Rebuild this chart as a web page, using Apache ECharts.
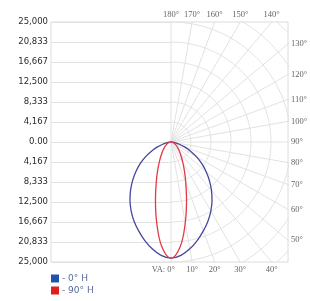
<!DOCTYPE html>
<html>
<head>
<meta charset="utf-8">
<script src="https://cdn.jsdelivr.net/npm/echarts@6/dist/echarts.min.js"></script>
<style>
  html, body { margin: 0; padding: 0; background: #fff; }
  #chart { width: 310px; height: 301px; }
</style>
</head>
<body>
<div id="chart"></div>
<script>
// vertical angle (VA), degrees
const vAngles = [0, 5, 10, 15, 20, 25, 30, 35, 40, 45, 50, 55, 60, 65, 70, 75, 80, 85, 90]
// intensity per VA, C0 plane (0° H) and C90 plane (90° H)
const int0H  = [24200, 23700, 22600, 21200, 19700, 18200, 16600, 14900, 13100, 11300, 9500, 7800, 6100, 4500, 3000, 1800, 950, 420, 0]
const int90H = [24200, 21900, 17100, 12500, 9000, 6600, 4900, 3750, 2900, 2300, 1800, 1400, 1100, 870, 660, 480, 310, 150, 0]
const seriesNames = ['0° H', '90° H']

const yTickLabels = ['0.00', '4,167', '8,333', '12,500', '16,667', '20,833', '25,000']
const topTicks = [180, 170, 160, 150, 140]
const rightTicks = [130, 120, 110, 100, 90, 80, 70, 60, 50]
const bottomTicks = [0, 10, 20, 30, 40]
const spokeAngles = [0, 10, 20, 30, 40, 50, 60, 70, 80, 90, 100, 110, 120, 130, 140, 150, 160, 170, 180]
const ringSteps = [1, 2, 3, 4, 5, 6, 7, 8, 9]

const maxI = 25000
const step = maxI / 6
const xMax = 24375
const rad = d => d * Math.PI / 180

// VA 0° points down, 90° to the right
const toXY = (a, v) => [v * Math.sin(rad(a)), -v * Math.cos(rad(a))]

const buildCurve = vals => {
  const pts = []
  for (let i = vAngles.length - 1; i >= 0; i--) pts.push(toXY(vAngles[i], vals[i]))
  for (let i = 1; i < vAngles.length; i++) pts.push(toXY(-vAngles[i], vals[i]))
  return pts
}

const gridLine = '#e2e2e2'
const series = []

// polar grid, right half only
spokeAngles.forEach(a => {
  series.push({
    type: 'line', xAxisIndex: 1, yAxisIndex: 1, silent: true, showSymbol: false,
    data: [[0, 0], toXY(a, 40000)],
    lineStyle: { color: gridLine, width: 1 }, z: 1
  })
})
ringSteps.forEach(k => {
  const pts = []
  for (let a = 0; a <= 180; a += 2) pts.push(toXY(a, k * step))
  series.push({
    type: 'line', xAxisIndex: 1, yAxisIndex: 1, silent: true, showSymbol: false,
    data: pts, lineStyle: { color: gridLine, width: 1 }, z: 1
  })
})

// angle labels where the spokes meet the frame
const labelData = []
const addLabel = (a, text) => {
  const s = Math.sin(rad(a)), c = Math.cos(rad(a))
  const tx = s > 1e-9 ? xMax / s : Infinity
  const ty = Math.abs(c) > 1e-9 ? maxI / Math.abs(c) : Infinity
  const t = Math.min(tx, ty)
  let position = 'right'
  if (ty <= tx) position = c < 0 ? 'top' : 'bottom'
  const item = { value: toXY(a, t), label: { position, formatter: text } }
  if (a === 0) { item.label.align = 'right'; item.label.offset = [4, 0] }
  labelData.push(item)
}
topTicks.forEach(a => addLabel(a, a + '°'))
rightTicks.forEach(a => addLabel(a, a + '°'))
bottomTicks.forEach(a => addLabel(a, a === 0 ? 'VA: 0°' : a + '°'))

series.push({
  type: 'scatter', xAxisIndex: 1, yAxisIndex: 1, silent: true, clip: false,
  symbolSize: 0, data: labelData,
  label: { show: true, distance: 3, fontSize: 8.5, color: '#3a3a3a', fontFamily: 'Liberation Serif' }
})

// light distribution curves
series.push({
  name: seriesNames[0], type: 'line', xAxisIndex: 1, yAxisIndex: 1,
  data: buildCurve(int0H), showSymbol: false, smooth: 0.4,
  lineStyle: { color: '#46469c', width: 1.3 }, itemStyle: { color: '#46469c' }, z: 5
})
series.push({
  name: seriesNames[1], type: 'line', xAxisIndex: 1, yAxisIndex: 1,
  data: buildCurve(int90H), showSymbol: false, smooth: 0.4,
  lineStyle: { color: '#e23a44', width: 1.3 }, itemStyle: { color: '#e23a44' }, z: 5
})

const chart = echarts.init(document.getElementById('chart'))
chart.setOption({
  animation: false,
  grid: [
    { left: 51, top: 22, width: 120, height: 240 },
    { left: 51, top: 22, width: 237, height: 240, show: true, borderColor: '#dcdcdc', borderWidth: 1, backgroundColor: 'transparent' }
  ],
  xAxis: [
    { gridIndex: 0, type: 'value', min: 0, max: 1, show: false },
    { gridIndex: 1, type: 'value', min: -maxI, max: xMax, show: false }
  ],
  yAxis: [
    {
      gridIndex: 0, type: 'value', min: -maxI, max: maxI, interval: step,
      axisLine: { show: false }, axisTick: { show: false },
      axisLabel: {
        margin: 3, fontSize: 8.5, color: '#2a2a2a', fontFamily: 'DejaVu Sans',
        formatter: v => yTickLabels[Math.round(Math.abs(v) / step)]
      },
      splitLine: { lineStyle: { color: gridLine } }
    },
    { gridIndex: 1, type: 'value', min: -maxI, max: maxI, show: false }
  ],
  legend: {
    data: [
      { name: seriesNames[0], itemStyle: { color: '#2352aa' } },
      { name: seriesNames[1], itemStyle: { color: '#e01e1e' } }
    ],
    orient: 'vertical', left: 51, top: 274, padding: 0, itemWidth: 8, itemHeight: 8, itemGap: 3,
    icon: 'rect', selectedMode: false, formatter: '- {name}',
    textStyle: { fontSize: 9, color: '#5a6a9a', fontFamily: 'DejaVu Sans', padding: [0, 0, 0, -2] }
  },
  series
})
</script>
</body>
</html>
